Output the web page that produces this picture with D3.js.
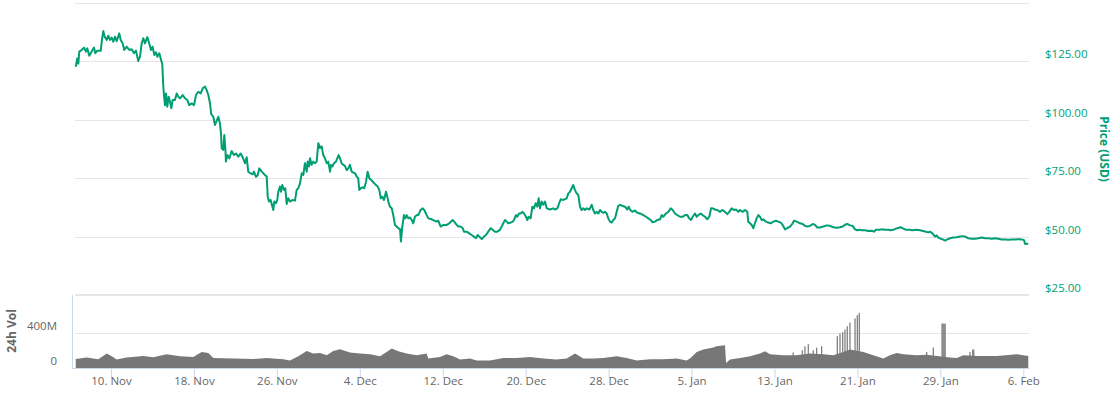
<!DOCTYPE html>
<html>
<head>
<meta charset="utf-8">
<script src="https://cdn.jsdelivr.net/npm/d3@7"></script>
<style>
  html, body { margin: 0; padding: 0; background: #fff; }
  svg { display: block; font-family: "Open Sans", "DejaVu Sans", sans-serif; }
</style>
</head>
<body>
<svg id="chart" width="1113" height="398"></svg>
<script>
// ---------- DATA ----------
const baseDate = "2018-11-10"; // day offsets below are relative to this date (UTC)

const priceDays = [-3.40,-3.25,-3.15,-3.06,-2.83,-2.60,-2.41,-2.29,-2.09,-1.86,-1.64,-1.51,-1.32,-0.99,-0.87,-0.74,-0.61,-0.41,-0.26,-0.10,
0.07,0.22,0.39,0.55,0.80,0.94,1.13,1.28,1.51,1.77,2.00,2.22,2.41,2.63,2.80,2.96,3.12,3.28,3.50,3.69,3.86,4.02,4.18,4.34,4.47,4.66,4.79,4.95,
5.04,5.11,5.21,5.31,5.43,5.57,5.69,5.82,5.95,6.17,6.34,6.49,6.66,6.92,7.14,7.36,7.55,7.78,8.01,8.20,8.42,8.65,8.85,9.07,9.23,9.39,9.55,9.67,9.87,
10.03,10.20,10.35,10.51,10.61,10.68,10.83,10.93,11.03,11.09,11.22,11.41,11.64,11.86,12.06,12.28,12.51,12.70,12.93,13.09,13.24,13.41,13.67,13.79,13.99,
14.15,14.31,14.54,14.85,15.02,15.12,15.24,15.40,15.53,15.66,15.75,15.92,16.04,16.14,16.30,16.40,16.52,16.69,16.81,16.95,17.10,17.27,17.53,17.75,17.91,
18.07,18.23,18.40,18.55,18.71,18.88,18.97,19.10,19.20,19.36,19.51,19.68,19.84,20.00,20.16,20.32,20.48,20.64,20.81,20.96,21.13,21.22,21.35,21.51,21.70,
21.83,21.96,22.09,22.25,22.41,22.57,22.74,22.89,23.05,23.22,23.37,23.54,23.70,23.85,23.95,24.09,24.28,24.43,24.60,24.76,24.92,25.08,25.24,25.40,25.56,
25.73,25.88,26.02,26.17,26.33,26.53,26.65,26.79,26.91,27.08,27.23,27.39,27.56,27.71,27.88,27.97,28.10,28.26,28.39,28.52,28.68,28.84,29.01,29.16,29.32,
29.49,29.64,29.87,30.07,30.22,30.45,30.61,30.93,31.19,31.42,31.57,31.80,32.05,32.38,32.63,32.96,33.18,33.35,33.50,33.73,33.93,34.05,34.31,34.56,34.79,
35.01,35.21,35.37,35.53,35.76,35.98,36.17,36.39,36.63,36.82,37.04,37.26,37.52,37.69,37.84,38.01,38.17,38.32,38.56,38.75,38.87,39.07,39.19,39.36,39.52,
39.67,39.84,40.03,40.16,40.29,40.48,40.64,40.80,40.97,41.12,41.26,41.38,41.55,41.70,41.86,42.03,42.35,42.66,42.83,43.05,43.24,43.38,43.57,43.79,43.96,
44.11,44.28,44.44,44.59,44.76,44.92,45.08,45.24,45.40,45.56,45.72,45.89,46.14,46.37,46.52,46.69,46.85,47.01,47.17,47.33,47.49,47.65,47.82,47.97,48.13,
48.30,48.45,48.62,48.78,48.93,49.10,49.36,49.58,49.80,49.94,50.06,50.32,50.54,50.77,51.03,51.35,51.61,51.83,52.06,52.25,52.47,52.70,52.96,53.12,53.27,
53.54,53.76,53.99,54.18,54.40,54.63,54.89,55.15,55.37,55.59,55.78,55.95,56.11,56.33,56.50,56.65,56.88,57.07,57.30,57.52,57.71,57.88,58.04,58.26,58.48,
58.74,58.97,59.23,59.45,59.64,59.87,60.10,60.29,60.51,60.67,60.93,61.16,61.38,61.47,61.64,61.80,61.96,62.12,62.28,62.44,62.60,62.77,62.92,63.18,63.40,
63.63,63.89,64.15,64.37,64.60,64.79,65.01,65.24,65.50,65.76,65.88,66.14,66.46,66.72,66.94,67.17,67.43,67.69,67.91,68.13,68.39,68.71,69.04,69.35,69.67,
70.00,70.32,70.58,70.80,71.02,71.28,71.54,71.77,71.99,72.18,72.41,72.73,73.05,73.38,73.60,73.79,74.11,74.34,74.66,74.98,75.21,75.46,75.72,75.94,76.17,
76.43,76.69,77.01,77.33,77.72,78.04,78.35,78.61,78.84,79.00,79.26,79.48,79.65,79.80,80.03,80.23,80.45,80.67,80.93,81.25,81.58,81.90,82.15,82.38,82.70,
83.02,83.34,83.66,83.99,84.31,84.63,84.95,85.27,85.59,85.92,86.24,86.55,86.88,87.20,87.52,87.85,88.07,88.17,88.33,88.48];

const priceUSD = [122.7,126.3,124,129.2,129.9,130.9,129.2,130.6,127.4,129.2,130.9,128.5,129.6,129.6,134.2,138.0,135.6,134.2,136,134.2,
135.2,133.4,135.6,133.6,137,134.2,132.7,129.9,131.3,129.9,130.2,128.5,129.6,125.2,127,132.7,134.9,132.7,135.4,132.7,129.9,131.3,127.7,128.9,127,128.5,126.3,123.8,
114.9,110.6,106.3,111.3,105.6,109.9,107.8,104.9,108.5,108.5,111.3,109.9,109.2,110.6,109.2,108.5,106.3,107,106.3,110.6,112,111.3,113.5,114.2,112.7,110.6,107.1,102.4,101.3,
97.8,99.5,101.3,98.5,94.2,87.8,87.1,93.5,87.8,82.1,84.9,83.5,86.6,84.9,85.6,84.2,85.6,84,81.4,84,77.8,77.2,76.7,77.8,75.6,
76.3,79.2,77.8,76.4,75.7,67.1,65,65.7,63.5,61.4,65,64.3,65.7,69.2,71.4,69.2,72.1,70,70.7,64,66.4,65,65.7,65.4,70,
70.7,72.8,77.1,76.4,81.4,77.8,82.1,80,83.5,80.7,82.1,81.4,82.1,90,87.9,88.6,84.9,83.5,81.4,82.1,77.8,80.7,80,81.4,82.1,
83.5,84.9,83.5,81.4,80.7,80.3,78.5,79.2,80.7,77.8,77.4,77.1,75.7,75,70,70.7,71.1,70.7,73.5,77.8,75,74.3,73.6,72.8,72.1,
71.4,70,66.4,67.1,65.7,69.2,67.1,64.3,62.8,62.1,59.2,55,54.3,53.6,53.2,47.9,54.3,59.2,57.8,59.2,57.8,58.2,57.1,55.7,58.5,
59.2,59.2,61.4,62.1,61.4,59.2,57.8,57.4,56.8,56.4,56.8,54.3,55,55,55.7,57.1,56,55,54.3,54.3,53.6,52.1,52.1,51.4,50.7,
50,49.3,50.7,50,49,50,50.7,52.1,53.6,52.9,52.1,52.1,52.9,54.3,55.7,57.1,56.4,55.7,56,56.4,57.1,59.2,58.5,59.9,59.9,
60.6,59.9,58.5,57.1,58.5,57.8,62.8,62.1,64.3,62.8,66.4,62.1,65,63.6,65,62.1,61.6,62.1,61.6,62.1,64.3,66,65.7,66,66.4,
68.5,69.2,70.7,72.1,69.9,68.5,67.8,62.8,61.4,62.1,61.4,62.1,61.6,63.6,61.4,59.9,60.6,59.9,61.4,60.6,60.2,60.6,59.9,57.8,56.4,
56,57.1,57.8,60.6,63.1,63.6,63.1,62.8,61.6,62.8,61.5,60.6,61.2,60.2,59.9,59.2,58.5,57.8,57.1,56.1,56.4,57.1,57.4,59.2,58.5,
59.9,60.6,62.1,61.4,59.9,59.2,58.5,58.5,59.2,59.2,57.8,57.1,58.5,59.9,58.5,59.2,59.9,59.2,58.5,57.4,58.5,62.1,62.1,61.6,61.4,
60.6,61.4,60.6,59.6,60.6,62.1,61.4,61.6,60.6,61.4,60.6,61.4,60.6,56.4,55.7,55,53.6,55.7,57.8,59.2,58.5,57.1,57.4,56.4,56,
55.7,56.4,56.8,56.4,56,55,53.1,53.6,54.3,55.7,56.8,56.4,55.7,55.4,54.6,54.3,54.6,55.4,55,53.9,53.9,54.3,54.8,54.6,54,
53.8,54,54.3,55.1,55.4,54.8,54.6,53.1,52.7,52.9,52.7,52.7,52.4,52.5,52.1,52.9,52.9,53.1,52.9,52.9,52.7,52.9,53.4,53.7,54,
53.4,52.9,52.9,52.7,52.9,52.7,52.4,52.1,51.8,52.1,51.3,50,50.5,49.6,49.1,48.8,48.3,48.8,49.3,49.6,49.7,50,50.2,50,49.3,
49.1,49.1,49.3,49.6,49.3,49.3,49.1,49.3,49.1,48.8,48.8,48.7,48.8,48.8,48.9,48.8,48.5,46.8,47,46.8];

// 24h volume (millions USD)
const volDays = [-3.40,-2.34,-1.23,-0.41,0.07,0.55,1.51,3.12,4.08,5.37,6.66,7.94,8.75,9.39,9.87,11.80,13.73,15.02,16.62,17.27,
18.07,18.88,19.51,20.16,20.81,21.44,22.09,23.05,24.02,24.98,25.95,26.59,27.08,27.71,28.52,29.49,30.45,30.61,31.74,32.38,
33.02,33.66,34.63,35.27,36.56,37.84,39.13,40.42,41.70,42.99,43.96,44.76,45.56,46.52,47.49,48.78,49.74,50.71,51.99,53.28,
54.57,55.53,55.85,56.50,57.14,58.10,58.43,59.23,59.33,59.71,60.68,61.64,62.60,63.09,63.57,64.85,66.14,67.43,68.71,69.67,
70.50,71.28,72.57,73.53,74.50,75.14,75.79,76.43,77.72,78.68,79.65,80.93,81.58,82.22,83.51,85.44,87.37,88.48];
const volM = [102,118,98,163,132,95,118,136,121,155,132,125,181,170,113,106,102,113,98,84,
132,192,163,170,144,192,211,174,163,155,132,181,219,189,163,144,163,106,125,155,
132,95,106,84,84,113,113,125,106,95,106,163,106,106,113,132,113,84,100,98,
106,84,106,181,208,230,245,256,56,95,113,132,163,189,155,144,144,163,155,144,
175,208,181,144,106,144,170,155,144,150,136,117,113,144,136,136,155,136];

// isolated volume spikes (millions USD)
const spikeDays = [65.80,66.68,66.94,67.26,67.74,68.07,68.55,70.06,70.32,70.58,70.80,71.02,71.28,71.77,71.99,72.18,
78.68,79.32,80.16,80.26,80.36,80.46,82.86,83.12,83.22];
const spikeM = [175,200,245,268,200,230,245,358,389,403,434,471,513,558,595,621,
181,230,501,501,498,501,181,208,208];

const tickDates = ["2018-11-10","2018-11-18","2018-11-26","2018-12-04","2018-12-12","2018-12-20","2018-12-28",
                   "2019-01-05","2019-01-13","2019-01-21","2019-01-29","2019-02-06"];
const priceTicks = [25, 50, 75, 100, 125, 150];
const priceLabelTicks = [25, 50, 75, 100, 125];
const volTicks = [0, 400, 800];
const volLabelTicks = [0, 400];

// ---------- CHART ----------
const svg = d3.select("#chart");
const base = Date.parse(baseDate + "T00:00:00Z");
const toDate = d => new Date(base + d * 864e5);

const x = d3.scaleUtc()
  .domain([toDate(-3.47), toDate(88.55)])
  .range([75, 1029]);
const yP = d3.scaleLinear().domain([25, 150]).range([295, 3]);
const yV = d3.scaleLinear().domain([0, 800]).range([368, 297]);

const green = "#009e73";
const grid = "#e6e6e6";

// price gridlines
svg.append("g").selectAll("line").data(priceTicks.filter(t => t !== 25)).join("line")
  .attr("x1", 75).attr("x2", 1029)
  .attr("y1", d => Math.round(yP(d)) + 0.5).attr("y2", d => Math.round(yP(d)) + 0.5)
  .attr("stroke", grid).attr("stroke-width", 1);

// separator / $25 line
svg.append("line").attr("x1", 75).attr("x2", 1029)
  .attr("y1", yP(25)).attr("y2", yP(25))
  .attr("stroke", grid).attr("stroke-width", 2);

// volume gridline 400M
svg.append("line").attr("x1", 75).attr("x2", 1029)
  .attr("y1", Math.round(yV(400)) + 0.5).attr("y2", Math.round(yV(400)) + 0.5)
  .attr("stroke", grid).attr("stroke-width", 1);

// price labels
svg.append("g").selectAll("text").data(priceLabelTicks).join("text")
  .attr("x", 1045).attr("y", d => yP(d) - 3)
  .attr("fill", green).attr("font-size", 11.5)
  .text(d => "$" + d3.format(".2f")(d));

// price title
svg.append("text")
  .attr("transform", `translate(1100,${(yP(100)+yP(75))/2}) rotate(90)`)
  .attr("text-anchor", "middle")
  .attr("fill", green).attr("font-size", 12).attr("font-weight", "bold")
  .text("Price (USD)");

// volume area
const vData = volDays.map((d, i) => ({ t: toDate(d), v: volM[i] }));
svg.append("path").datum(vData)
  .attr("fill", "#777")
  .attr("d", d3.area().x(d => x(d.t)).y0(yV(0)).y1(d => yV(d.v)));

// volume spikes
svg.append("g").selectAll("rect").data(spikeDays.map((d, i) => ({ t: toDate(d), v: spikeM[i] }))).join("rect")
  .attr("x", d => x(d.t) - 0.6).attr("width", 1.2)
  .attr("y", d => yV(d.v)).attr("height", d => yV(0) - yV(d.v))
  .attr("fill", "#777");

// volume axis line (left)
svg.append("line").attr("x1", 72.5).attr("x2", 72.5).attr("y1", 295).attr("y2", 368)
  .attr("stroke", "#ccd6eb").attr("stroke-width", 1);

// volume labels
svg.append("g").selectAll("text").data(volLabelTicks).join("text")
  .attr("x", 57).attr("y", d => yV(d) - 3)
  .attr("text-anchor", "end").attr("fill", "#666").attr("font-size", 11.5)
  .text(d => d === 0 ? "0" : d + "M");

svg.append("text")
  .attr("transform", `translate(16,331) rotate(-90)`)
  .attr("text-anchor", "middle")
  .attr("fill", "#666").attr("font-size", 12).attr("font-weight", "bold")
  .text("24h Vol");

// x axis
const xAxis = d3.axisBottom(x)
  .tickValues(tickDates.map(s => new Date(s + "T00:00:00Z")))
  .tickFormat(d3.utcFormat("%-d. %b"))
  .tickSize(10).tickSizeOuter(0);
const gx = svg.append("g").attr("transform", "translate(0,368)").call(xAxis);
gx.select(".domain").attr("stroke", "#ccd6eb").attr("d", "M72,0.5H1029");
gx.selectAll(".tick line").attr("stroke", "#ccd6eb");
gx.selectAll(".tick text").attr("fill", "#666").attr("font-size", 11.5)
  .attr("font-family", "'Open Sans', sans-serif").attr("dy", "0.3em").attr("y", 14);

// price line
const pData = priceDays.map((d, i) => ({ t: toDate(d), v: priceUSD[i] }));
svg.append("path").datum(pData)
  .attr("fill", "none").attr("stroke", green).attr("stroke-width", 2)
  .attr("stroke-linejoin", "round")
  .attr("d", d3.line().x(d => x(d.t)).y(d => yP(d.v)));
</script>
</body>
</html>
